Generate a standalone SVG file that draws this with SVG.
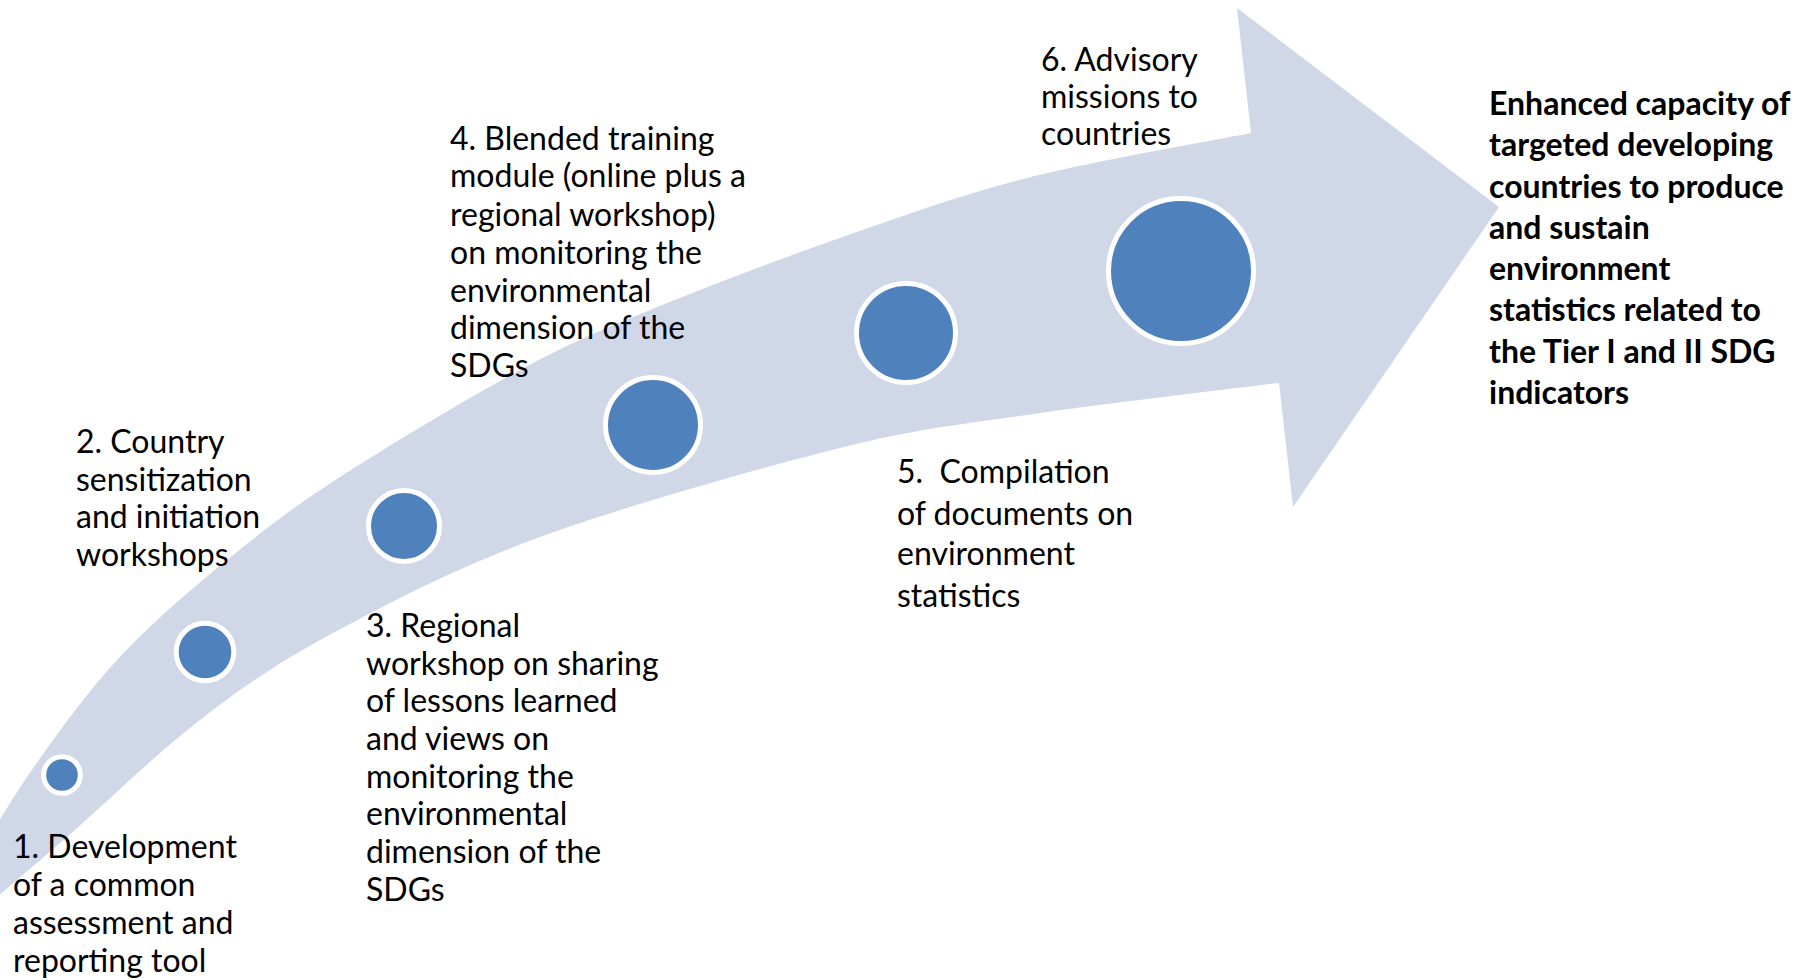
<svg xmlns="http://www.w3.org/2000/svg" width="1802" height="980" viewBox="0 0 1802 980">
<style>
.band{fill:#D0D8E8;stroke:none}
.dot{fill:#4F81BD;stroke:#FFFFFF;stroke-width:5}
.lbl{font-family:Lato,"Liberation Sans",sans-serif;font-size:32px;fill:#000000}
.out{font-family:Lato,"Liberation Sans",sans-serif;font-size:32px;font-weight:bold;fill:#000000}
</style>
<rect width="1802" height="980" fill="#FFFFFF"/>
<g id="connectors">
<path id="arrow" class="band" d="M-30,872 C-20.5,856.2 2.5,812.3 27,777 C51.5,741.7 83.7,696.2 117,660 C150.3,623.8 189.8,590.5 227,560 C264.2,529.5 291.2,508.7 340,477 C388.8,445.3 468.3,397.8 520,370 C571.7,342.2 596.7,332 650,310 C703.3,288 777.2,260 840,238 C902.8,216 958.5,195.5 1027,178 C1095.5,160.5 1213.7,140.5 1251,133 L1237,8 L1499,207 L1293,507 L1279,383 C1237,388.3 1100.2,404.2 1027,415 C953.8,425.8 921.2,427.7 840,448 C758.8,468.3 624.5,506.2 540,537 C455.5,567.8 389.7,602.5 333,633 C276.3,663.5 244.3,686 200,720 C155.7,754 105.3,803.7 67,837 C28.7,870.3 -13.8,906.2 -30,920 Z"/>
</g>
<g id="node1">
<circle class="dot" cx="62" cy="775" r="18.3"/>
<text class="lbl"><tspan x="13" y="858">1. Development</tspan><tspan x="13" y="896">of a common</tspan><tspan x="13" y="934">assessment and</tspan><tspan x="13" y="972">reporting tool</tspan></text>
</g>
<g id="node2">
<circle class="dot" cx="205" cy="652" r="28.8"/>
<text class="lbl"><tspan x="76" y="453">2. Country</tspan><tspan x="76" y="491">sensitization</tspan><tspan x="76" y="528">and initiation</tspan><tspan x="76" y="566">workshops</tspan></text>
</g>
<g id="node3">
<circle class="dot" cx="404" cy="526" r="35.5"/>
<text class="lbl"><tspan x="366" y="637">3. Regional</tspan><tspan x="366" y="675">workshop on sharing</tspan><tspan x="366" y="712">of lessons learned</tspan><tspan x="366" y="750">and views on</tspan><tspan x="366" y="788">monitoring the</tspan><tspan x="366" y="825">environmental</tspan><tspan x="366" y="863">dimension of the</tspan><tspan x="366" y="901">SDGs</tspan></text>
</g>
<g id="node4">
<circle class="dot" cx="653" cy="425" r="47.5"/>
<text class="lbl"><tspan x="450" y="150">4. Blended training</tspan><tspan x="450" y="187">module (online plus a</tspan><tspan x="450" y="226">regional workshop)</tspan><tspan x="450" y="264">on monitoring the</tspan><tspan x="450" y="302">environmental</tspan><tspan x="450" y="339">dimension of the</tspan><tspan x="450" y="377">SDGs</tspan></text>
</g>
<g id="node5">
<circle class="dot" cx="906" cy="333" r="49.5"/>
<text class="lbl" xml:space="preserve"><tspan x="897" y="483">5.  Compilation</tspan><tspan x="897" y="525">of documents on</tspan><tspan x="897" y="565">environment</tspan><tspan x="897" y="607">statistics</tspan></text>
</g>
<g id="node6">
<circle class="dot" cx="1181" cy="271" r="72.5"/>
<text class="lbl"><tspan x="1041" y="71">6. Advisory</tspan><tspan x="1041" y="108">missions to</tspan><tspan x="1041" y="145">countries</tspan></text>
</g>
<g id="outcome">
<text class="out"><tspan x="1489" y="115">Enhanced capacity of</tspan><tspan x="1489" y="156">targeted developing</tspan><tspan x="1489" y="198">countries to produce</tspan><tspan x="1489" y="239">and sustain</tspan><tspan x="1489" y="280">environment</tspan><tspan x="1489" y="321">statistics related to</tspan><tspan x="1489" y="363">the Tier I and II SDG</tspan><tspan x="1489" y="404">indicators</tspan></text>
</g>
</svg>
